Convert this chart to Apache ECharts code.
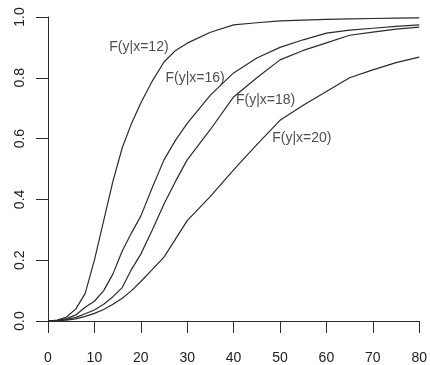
<!DOCTYPE html>
<html>
<head>
<meta charset="utf-8">
<script src="https://cdn.jsdelivr.net/npm/echarts@6/dist/echarts.min.js"></script>
<style>
  html, body { margin: 0; padding: 0; background: #fff; }
  #chart { width: 430px; height: 365px; }
</style>
</head>
<body>
<div id="chart"></div>
<script>
// x grid shared by every curve
const xGrid = [0, 2, 4, 6, 8, 10, 12, 14, 16, 18, 20, 22.5, 25, 27.5, 30, 35, 40, 45, 50, 55, 60, 65, 70, 75, 80]

// conditional cdf values
const f12 = [0, 0.003, 0.013, 0.04, 0.09, 0.2, 0.33, 0.46, 0.57, 0.65, 0.717, 0.79, 0.852, 0.89, 0.914, 0.95, 0.974, 0.981, 0.987, 0.99, 0.992, 0.994, 0.995, 0.996, 0.997]
const f16 = [0, 0.002, 0.008, 0.02, 0.045, 0.065, 0.1, 0.155, 0.23, 0.29, 0.345, 0.44, 0.53, 0.595, 0.65, 0.743, 0.816, 0.865, 0.9, 0.925, 0.947, 0.957, 0.963, 0.969, 0.974]
const f18 = [0, 0.001, 0.005, 0.012, 0.024, 0.036, 0.055, 0.08, 0.11, 0.17, 0.22, 0.3, 0.385, 0.46, 0.53, 0.63, 0.737, 0.8, 0.859, 0.89, 0.915, 0.94, 0.95, 0.96, 0.967]
const f20 = [0, 0.001, 0.003, 0.007, 0.015, 0.025, 0.038, 0.055, 0.075, 0.1, 0.13, 0.17, 0.21, 0.27, 0.33, 0.41, 0.497, 0.58, 0.66, 0.71, 0.755, 0.8, 0.826, 0.85, 0.868]

// curve labels
const labelText = ['F(y|x=12)', 'F(y|x=16)', 'F(y|x=18)', 'F(y|x=20)']
const labelX = [19.6, 31.7, 46.9, 54.7]
const labelY = [0.901, 0.8, 0.727, 0.602]

const inkColor = '#2b2b2b'
const fontFam = '"Liberation Sans", Arial, Helvetica, sans-serif'

const chart = echarts.init(document.getElementById('chart'), null, {renderer: 'canvas'})

const curve = function (ys) {
  return {
    type: 'line',
    data: xGrid.map((x, i) => [x, ys[i]]),
    showSymbol: false,
    smooth: false,
    silent: true,
    lineStyle: {color: inkColor, width: 1.2},
  }
}

chart.setOption({
  animation: false,
  grid: {left: 48, right: 10, top: 17, bottom: 44},
  xAxis: {
    type: 'value',
    min: 0,
    max: 80,
    interval: 10,
    axisLine: {show: true, lineStyle: {color: inkColor, width: 1}},
    axisTick: {show: true, length: 12, lineStyle: {color: inkColor, width: 1}},
    axisLabel: {margin: 30, color: '#222', fontSize: 14, fontFamily: fontFam},
    splitLine: {show: false},
  },
  yAxis: {
    type: 'value',
    min: 0,
    max: 1,
    interval: 0.2,
    axisLine: {show: true, lineStyle: {color: inkColor, width: 1}},
    axisTick: {show: true, length: 12, lineStyle: {color: inkColor, width: 1}},
    axisLabel: {
      margin: 21,
      rotate: 90,
      color: '#222',
      fontSize: 14,
      fontFamily: fontFam,
      formatter: v => v.toFixed(1),
    },
    splitLine: {show: false},
  },
  series: [
    curve(f12),
    curve(f16),
    curve(f18),
    curve(f20),
    {
      type: 'scatter',
      symbolSize: 0,
      silent: true,
      data: labelText.map((t, i) => ({name: t, value: [labelX[i], labelY[i]]})),
      label: {
        show: true,
        position: 'inside',
        formatter: p => p.name,
        color: '#222',
        fontSize: 14,
        fontFamily: fontFam,
      },
    },
  ],
})
</script>
</body>
</html>
